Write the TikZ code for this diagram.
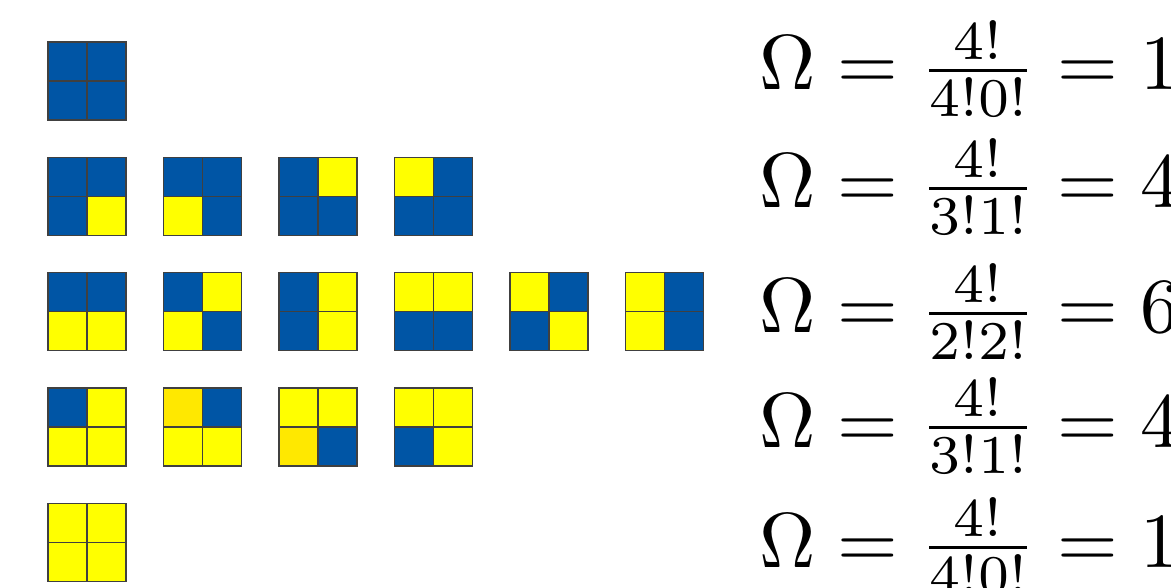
\documentclass[tikz,border=0pt]{standalone}

\definecolor{spinB}{RGB}{0,85,165}
\definecolor{spinY}{RGB}{255,255,0}
\definecolor{spinG}{RGB}{255,232,0}

\begin{document}
\begin{tikzpicture}[x=1pt, y=-1pt,
  cell/.style={draw=black!75, line width=1.2pt},
  eqn/.style={anchor=base west, inner sep=0pt}
]
\useasboundingbox (0,0) rectangle (1171,588);

% microstates: column/row/top left/top right/bottom left/bottom right
\foreach \c/\r/\ta/\tb/\ba/\bb in {
  0/0/B/B/B/B,
  0/1/B/B/B/Y, 1/1/B/B/Y/B, 2/1/B/Y/B/B, 3/1/Y/B/B/B,
  0/2/B/B/Y/Y, 1/2/B/Y/Y/B, 2/2/B/Y/B/Y, 3/2/Y/Y/B/B, 4/2/Y/B/B/Y, 5/2/Y/B/Y/B,
  0/3/B/Y/Y/Y, 1/3/G/B/Y/Y, 2/3/Y/Y/G/B, 3/3/Y/Y/B/Y,
  0/4/Y/Y/Y/Y}{
  \coordinate (s) at (48+115.5*\c, 42+115.3*\r);
  \fill[spin\ta] (s) rectangle ++(39,39);
  \fill[spin\tb] (s) ++(39,0) rectangle ++(39,39);
  \fill[spin\ba] (s) ++(0,39) rectangle ++(39,39);
  \fill[spin\bb] (s) ++(39,39) rectangle ++(39,39);
  \draw[cell] (s) rectangle ++(78,78);
  \draw[cell] (s) ++(39,0) -- ++(0,78) (s) ++(0,39) -- ++(78,0);
}

% multiplicities
\foreach \r/\y/\den/\val in {0/90/4!0!/1, 1/208/3!1!/4, 2/333/2!2!/6, 3/447/3!1!/4, 4/567/4!0!/1}
  \node[eqn] (eq\r) at (759.5,\y) {\scalebox{7.8}{$\Omega = \frac{4!}{\den} = \val$}};

\end{tikzpicture}
\end{document}
